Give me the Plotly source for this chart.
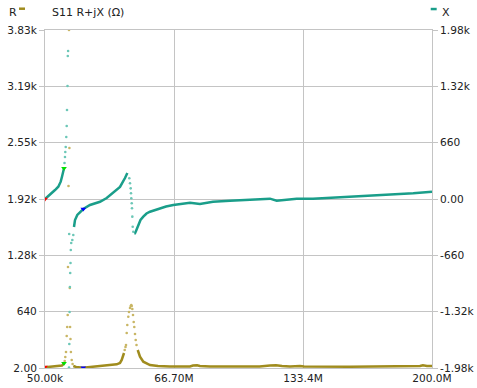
import plotly.graph_objects as go

# ---------------- data (frequency in MHz, R and X in ohms) ----------------
# R : continuous segments (None separates segments)
r_line_f = [0.05, 2.63, 5.22, 7.8, 8.83, 9.87, None,
            14.67, 16.07, 19.68, 23.3, 28.47, 31.93, 37.1, 38.8, 39.68, 40.87, None,
            47.95, 49.13, 50.84, 54.3, 58.43, 64.6, 74.97, 76.5, 78.6, 80.1, 85.3,
            110.9, 116.3, 119.4, 122.5, 126.6, 131.8, 133.9, 157.6, 186.0, 193.8,
            195.3, 197.4, 200.0]
r_line_v = [10, 17, 19, 25, 30, 55, None,
            25, 13, 5, 13, 19, 25, 44, 59, 93, 172, None,
            206, 130, 73, 36, 25, 19, 19, 30, 33, 25, 19,
            19, 30, 33, 25, 19, 25, 19, 17, 19, 25,
            33, 25, 25]
# R : sparse sweep points on the steep parts
r_dot_f = [10.23, 10.54, 10.90, 11.26, 11.52, 11.78, 11.93, 12.19, 12.45, 12.66,
           12.86, 13.02, 13.22, 13.43, 13.85, 14.31,
           41.23, 41.64, 41.9, 42.26, 42.57, 43.09, 43.45, 43.97, 44.33, 44.64,
           44.85, 45.16, 45.52, 45.88, 46.19, 46.55, 46.91, 47.33]
r_dot_v = [81, 127, 183, 364, 466, 602, 1146, 2063, 3830, 2494,
           908, 466, 330, 183, 93, 47,
           206, 240, 262, 398, 489, 583, 636, 681, 704, 715,
           704, 670, 602, 523, 466, 387, 319, 262]

# X : continuous segments
x_line_f = [0.05, 2.63, 5.22, 6.92, 8.16, 8.83, 9.2, 9.87, None,
            15.03, 15.55, 16.74, 18.4, 19.84, 23.3, 28.47, 31.93, 35.18, 38.8,
            41.38, 42.6, None,
            46.19, 46.55, 47.07, 48.25, 49.39, 50.84, 52.5, 54.3, 56.9, 59.47,
            62.6, 66.34, 69.8, 73.26, 74.97, 80.1, 86.85, 95.6, 104.26, 112.7,
            116.3, 119.76, 123.0, 130.1, 138.5, 145.6, 156.0, 167.9, 178.3,
            190.3, 200.0]
x_line_v = [0, 47, 105, 144, 203, 261, 301, 360, None,
            -328, -246, -187, -150, -117, -70, -32, 12, 70, 141,
            246, 305, None,
            -402, -402, -375, -305, -246, -207, -170, -149, -129, -109,
            -88, -70, -62, -50, -43, -59, -32, -20, -12, 4,
            4, -20, -12, 4, 4, 12, 27, 43, 55,
            67, 86]
# X : sparse sweep points on the steep parts
x_dot_f = [10.13, 10.38, 10.54, 10.75, 11.05, 11.26, 11.42, 11.68, 11.83, 11.99,
           12.45, 12.55, 12.61, 12.76, 12.92, 13.07, 13.23, 13.38, 13.59, 14.16,
           14.67,
           43.61, 43.97, 44.33, 44.48, 44.64, 44.85, 45.0, 45.16, 45.36, 45.67]
x_dot_v = [422, 492, 551, 609, 726, 855, 1043, 1324, 1675, 1734,
           -1975, -410, -1699, -1324, -1031, -867, -750, -598, -516, -480,
           -422,
           243, 184, 125, 67, 8, -50, -109, -207, -325, -383]

# markers 1..3
mk_f = [0.05, 9.87, 19.84]
mk_r = [13, 55, 5]
mk_x = [0, 360, -117]
mk_col = ["#ff0000", "#00e000", "#0000ff"]

# axes
x_range = [0.05, 200.0]
x_tickvals = [0.05, 66.7, 133.4, 200.0]
x_ticktext = ["50.00k", "66.70M", "133.4M", "200.0M"]
r_range = [2, 3830]
r_tickvals = [2, 640, 1278, 1916, 2554, 3192, 3830]
r_ticktext = ["2.00", "640", "1.28k", "1.92k", "2.55k", "3.19k", "3.83k"]
x_range_v = [-1980, 1980]
xv_tickvals = [-1980, -1320, -660, 0, 660, 1320, 1980]
xv_ticktext = ["-1.98k", "-1.32k", "-660", "0.00", "660", "1.32k", "1.98k"]

R_COL = "#a08c1e"
R_DOT = "#c9b665"
X_COL = "#1a9e8a"
X_DOT = "#6cc7b7"
GRID = "#c4c4c4"
FONT = dict(family="DejaVu Sans", size=11, color="#222222")
TICKFONT = dict(family="DejaVu Sans", size=10.6, color="#222222")

fig = go.Figure()
fig.add_trace(go.Scatter(x=r_line_f, y=r_line_v, mode="lines", name="R",
                         line=dict(color=R_COL, width=2.5), connectgaps=False,
                         yaxis="y", showlegend=False))
fig.add_trace(go.Scatter(x=r_dot_f, y=r_dot_v, mode="markers", name="R",
                         marker=dict(color=R_DOT, size=2.6), yaxis="y",
                         showlegend=False))
fig.add_trace(go.Scatter(x=x_line_f, y=x_line_v, mode="lines", name="X",
                         line=dict(color=X_COL, width=2.5), connectgaps=False,
                         yaxis="y2", showlegend=False))
fig.add_trace(go.Scatter(x=x_dot_f, y=x_dot_v, mode="markers", name="X",
                         marker=dict(color=X_DOT, size=2.6), yaxis="y2",
                         showlegend=False))
fig.add_trace(go.Scatter(x=mk_f, y=mk_r, mode="markers", yaxis="y",
                         marker=dict(color=mk_col, size=5, symbol="triangle-down"),
                         showlegend=False))
fig.add_trace(go.Scatter(x=mk_f, y=mk_x, mode="markers", yaxis="y2",
                         marker=dict(color=mk_col, size=5, symbol="triangle-down"),
                         showlegend=False))

fig.update_layout(
    width=477, height=388,
    margin=dict(l=45, r=45, t=30, b=20, autoexpand=False),
    paper_bgcolor="white", plot_bgcolor="white",
    font=FONT,
    showlegend=False,
    xaxis=dict(range=x_range, tickvals=x_tickvals, ticktext=x_ticktext,
               showgrid=True, gridcolor=GRID, gridwidth=1, automargin=False,
               showline=True, linecolor=GRID, linewidth=1, mirror=True,
               ticks="", zeroline=False, tickfont=TICKFONT),
    yaxis=dict(range=r_range, tickvals=r_tickvals, ticktext=r_ticktext,
               showgrid=True, gridcolor=GRID, gridwidth=1, automargin=False,
               showline=True, linecolor=GRID, linewidth=1, mirror=True,
               ticks="outside", ticklen=5, tickcolor=GRID,
               zeroline=False, tickfont=TICKFONT),
    yaxis2=dict(range=x_range_v, tickvals=xv_tickvals, ticktext=xv_ticktext,
                overlaying="y", side="right", showgrid=False, automargin=False,
                ticks="outside", ticklen=5, tickcolor=GRID,
                zeroline=False, tickfont=TICKFONT),
)

# legend-like labels and title
fig.add_annotation(text="R", x=-0.0814, y=1.053, xref="paper", yref="paper",
                   showarrow=False, xanchor="center", yanchor="middle", font=FONT)
fig.add_shape(type="line", xref="paper", yref="paper", x0=-0.0672, x1=-0.0517,
              y0=1.063, y1=1.063, line=dict(color=R_COL, width=2.5))
fig.add_annotation(text="S11 R+jX (Ω)", x=0.0129, y=1.053, xref="paper", yref="paper",
                   showarrow=False, xanchor="left", yanchor="middle", font=FONT)
fig.add_shape(type="line", xref="paper", yref="paper", x0=0.9967, x1=1.0121,
              y0=1.062, y1=1.062, line=dict(color=X_COL, width=2.5))
fig.add_annotation(text="X", x=1.035, y=1.053, xref="paper", yref="paper",
                   showarrow=False, xanchor="center", yanchor="middle", font=FONT)

# remove the page's default 8px body margin so the figure fills the window
fig.write_html("out.html",
               config={"displayModeBar": False},
               post_script="document.body.style.margin='0px';document.body.style.overflow='hidden';")
